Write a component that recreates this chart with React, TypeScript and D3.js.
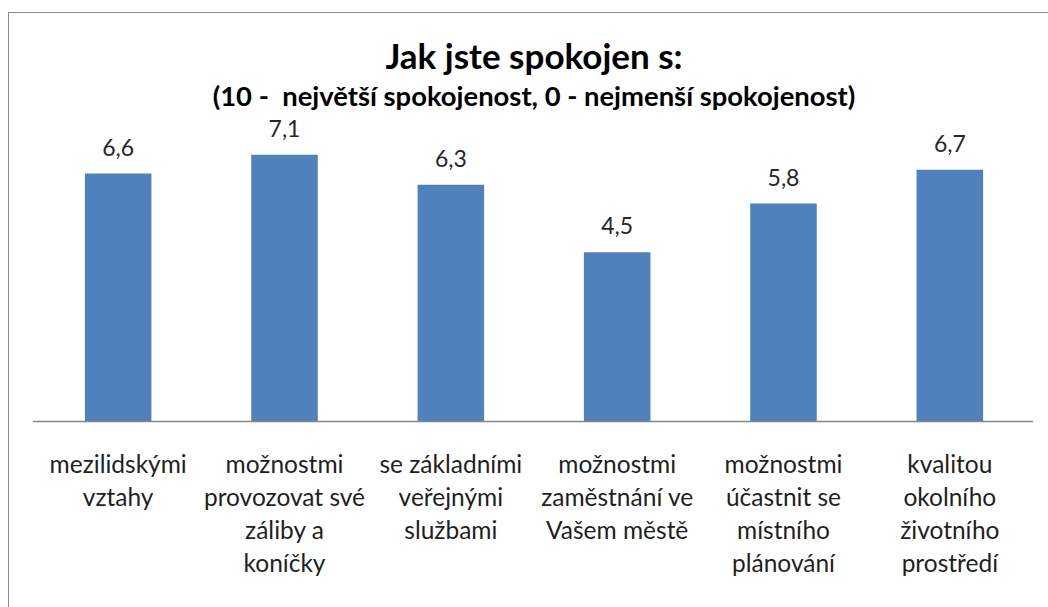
import { useRef, useEffect } from "react";
import * as d3 from "d3";

// chart data
const categories = [
  "mezilidskými vztahy",
  "možnostmi provozovat své záliby a koníčky",
  "se základními veřejnými službami",
  "možnostmi zaměstnání ve Vašem městě",
  "možnostmi účastnit se místního plánování",
  "kvalitou okolního životního prostředí",
];
const categoryLines = [
  ["mezilidskými", "vztahy"],
  ["možnostmi", "provozovat své", "záliby a", "koníčky"],
  ["se základními", "veřejnými", "službami"],
  ["možnostmi", "zaměstnání ve", "Vašem městě"],
  ["možnostmi", "účastnit se", "místního", "plánování"],
  ["kvalitou", "okolního", "životního", "prostředí"],
];
const values = [6.6, 7.1, 6.3, 4.5, 5.8, 6.7];
const yDomain = [0, 8];

const title = "Jak jste spokojen s:";
const subtitle = "(10 -  největší spokojenost, 0 - nejmenší spokojenost)";

export default function App() {
  const svgRef = useRef<SVGSVGElement>(null);

  useEffect(() => {
    if (!svgRef.current) return;
    const width = 1048;
    const height = 607;
    const margin = { top: 121, right: 15, bottom: 186, left: 33 };
    const font = "Lato, 'Open Sans', sans-serif";

    const svg = d3.select(svgRef.current);
    svg.selectAll("*").remove();
    svg.attr("width", width).attr("height", height);

    // outer chart border (runs past the right and bottom edges)
    svg
      .append("rect")
      .attr("x", 8.5)
      .attr("y", 12.5)
      .attr("width", 1100)
      .attr("height", 700)
      .attr("fill", "#fff")
      .attr("stroke", "#8c8c8c")
      .attr("stroke-width", 1);

    const x = d3
      .scaleBand()
      .domain(categories)
      .range([margin.left + 2, width - margin.right])
      .paddingInner(0.6)
      .paddingOuter(0.3);

    const y = d3
      .scaleLinear()
      .domain(yDomain)
      .range([height - margin.bottom, margin.top]);

    const data = categories.map((c, i) => ({ c, v: values[i], lines: categoryLines[i] }));

    svg
      .selectAll(".bar")
      .data(data)
      .enter()
      .append("rect")
      .attr("class", "bar")
      .attr("x", (d) => x(d.c) || 0)
      .attr("y", (d) => y(d.v))
      .attr("width", x.bandwidth())
      .attr("height", (d) => y(0) - y(d.v))
      .attr("fill", "#4f81bd");

    // baseline axis
    svg
      .append("line")
      .attr("x1", margin.left)
      .attr("x2", width - margin.right)
      .attr("y1", y(0) + 0.5)
      .attr("y2", y(0) + 0.5)
      .attr("stroke", "#868686")
      .attr("stroke-width", 1.5);

    // value labels
    svg
      .selectAll(".val")
      .data(data)
      .enter()
      .append("text")
      .attr("class", "val")
      .attr("x", (d) => (x(d.c) || 0) + x.bandwidth() / 2)
      .attr("y", (d) => y(d.v) - 18)
      .attr("text-anchor", "middle")
      .attr("font-family", font)
      .attr("font-size", 23)
      .attr("fill", "#262626")
      .text((d) => d3.format(".1f")(d.v).replace(".", ","));

    // category labels
    const cat = svg
      .selectAll(".cat")
      .data(data)
      .enter()
      .append("text")
      .attr("class", "cat")
      .attr("text-anchor", "middle")
      .attr("font-family", font)
      .attr("font-size", 24.5)
      .attr("fill", "#1f1f1f");
    cat
      .selectAll("tspan")
      .data((d) => d.lines.map((l) => ({ l, cx: (x(d.c) || 0) + x.bandwidth() / 2 })))
      .enter()
      .append("tspan")
      .attr("x", (d) => d.cx)
      .attr("y", (_d, i) => 473 + i * 33)
      .text((d) => d.l);

    svg
      .append("text")
      .attr("x", 534)
      .attr("y", 69)
      .attr("text-anchor", "middle")
      .attr("font-family", font)
      .attr("font-weight", "bold")
      .attr("font-size", 35)
      .attr("fill", "#000")
      .text(title);

    svg
      .append("text")
      .attr("x", 534)
      .attr("y", 106)
      .attr("text-anchor", "middle")
      .attr("font-family", font)
      .attr("font-weight", "bold")
      .attr("font-size", 27.4)
      .attr("fill", "#000")
      .attr("xml:space", "preserve")
      .style("white-space", "pre")
      .text(subtitle);
  }, []);

  return (
    <div style={{ position: "absolute", left: 0, top: 0 }}>
      <svg ref={svgRef} style={{ display: "block" }} />
    </div>
  );
}
